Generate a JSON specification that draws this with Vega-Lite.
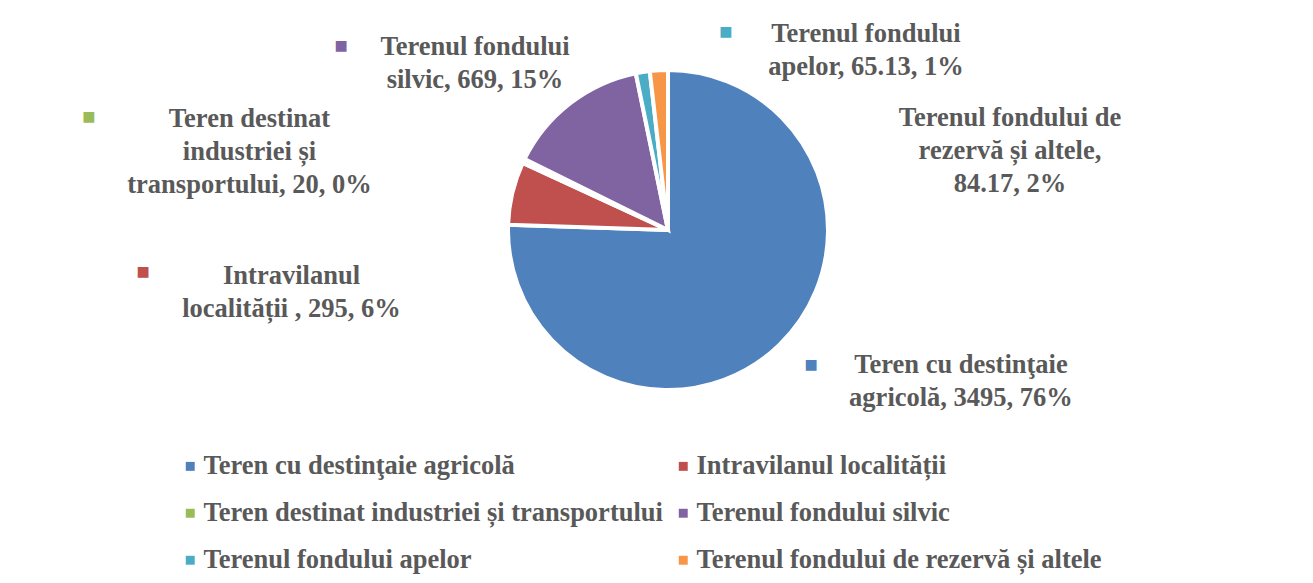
{
  "$schema": "https://vega.github.io/schema/vega-lite/v6.json",
  "autosize": "none",
  "width": 1290,
  "height": 460,
  "padding": {"left": 23, "top": 0, "right": 0, "bottom": 123},
  "background": "white",
  "config": {"view": {"stroke": null}},
  "data": {"values": [
    {"category": "Teren cu destinţaie agricolă", "value": 3495, "ord": 1, "label": "Teren cu destinţaie\nagricolă, 3495, 76%"},
    {"category": "Intravilanul localității", "value": 295, "ord": 2, "label": "Intravilanul\nlocalității , 295, 6%"},
    {"category": "Teren destinat industriei și transportului", "value": 20, "ord": 3, "label": "Teren destinat\nindustriei și\ntransportului, 20, 0%"},
    {"category": "Terenul fondului silvic", "value": 669, "ord": 4, "label": "Terenul fondului\nsilvic, 669, 15%"},
    {"category": "Terenul fondului apelor", "value": 65.13, "ord": 5, "label": "Terenul fondului\napelor, 65.13, 1%"},
    {"category": "Terenul fondului de rezervă și altele", "value": 84.17, "ord": 6, "label": "Terenul fondului de\nrezervă și altele,\n84.17, 2%"}
  ]},
  "encoding": {
    "theta": {"field": "value", "type": "quantitative", "stack": true},
    "order": {"field": "ord", "type": "quantitative"},
    "detail": {"field": "category", "type": "nominal"}
  },
  "layer": [
    {
      "mark": {"type": "arc", "outerRadius": 160, "stroke": "white", "strokeWidth": 4},
      "encoding": {
        "color": {
          "field": "category", "type": "nominal",
          "scale": {
            "domain": ["Teren cu destinţaie agricolă", "Intravilanul localității", "Teren destinat industriei și transportului", "Terenul fondului silvic", "Terenul fondului apelor", "Terenul fondului de rezervă și altele"],
            "range": ["#4F81BD", "#C0504D", "#9BBB59", "#8064A2", "#4BACC6", "#F79646"]
          },
          "legend": {
            "orient": "none", "legendX": 154, "legendY": 453, "columns": 2, "direction": "horizontal",
            "title": null, "symbolType": "square", "symbolSize": 80, "symbolStrokeWidth": 0,
            "labelFont": "Liberation Serif", "labelFontWeight": "bold", "labelFontSize": 26.5, "labelColor": "#595959",
            "labelLimit": 700, "labelOffset": 0, "rowPadding": 20, "columnPadding": 7, "padding": 0
          }
        }
      }
    },
    {"mark": {"type": "text", "radius": 160, "dx": 181.7, "dy": 20.1, "align": "center", "baseline": "middle", "lineBreak": "\n", "lineHeight": 33, "font": "Liberation Serif", "fontWeight": "bold", "fontSize": 26.5, "color": "#595959"},
     "encoding": {"text": {"condition": {"test": "datum.ord === 1", "field": "label"}, "value": ""}}},
    {"mark": {"type": "text", "radius": 160, "dx": -220.8, "dy": 82.9, "align": "center", "baseline": "middle", "lineBreak": "\n", "lineHeight": 33, "font": "Liberation Serif", "fontWeight": "bold", "fontSize": 26.5, "color": "#595959"},
     "encoding": {"text": {"condition": {"test": "datum.ord === 2", "field": "label"}, "value": ""}}},
    {"mark": {"type": "text", "radius": 160, "dx": -274.2, "dy": -42.4, "align": "center", "baseline": "middle", "lineBreak": "\n", "lineHeight": 33, "font": "Liberation Serif", "fontWeight": "bold", "fontSize": 26.5, "color": "#595959"},
     "encoding": {"text": {"condition": {"test": "datum.ord === 3", "field": "label"}, "value": ""}}},
    {"mark": {"type": "text", "radius": 160, "dx": -95.3, "dy": -56.3, "align": "center", "baseline": "middle", "lineBreak": "\n", "lineHeight": 33, "font": "Liberation Serif", "fontWeight": "bold", "fontSize": 26.5, "color": "#595959"},
     "encoding": {"text": {"condition": {"test": "datum.ord === 4", "field": "label"}, "value": ""}}},
    {"mark": {"type": "text", "radius": 160, "dx": 223.2, "dy": -38, "align": "center", "baseline": "middle", "lineBreak": "\n", "lineHeight": 33, "font": "Liberation Serif", "fontWeight": "bold", "fontSize": 26.5, "color": "#595959"},
     "encoding": {"text": {"condition": {"test": "datum.ord === 5", "field": "label"}, "value": ""}}},
    {"mark": {"type": "text", "radius": 160, "dx": 351.1, "dy": 47.7, "align": "center", "baseline": "middle", "lineBreak": "\n", "lineHeight": 33, "font": "Liberation Serif", "fontWeight": "bold", "fontSize": 26.5, "color": "#595959"},
     "encoding": {"text": {"condition": {"test": "datum.ord === 6", "field": "label"}, "value": ""}}},
    {"mark": {"type": "text", "radius": 160, "dx": 31.7, "dy": 20.1, "align": "center", "baseline": "middle", "font": "DejaVu Sans", "fontSize": 14},
     "encoding": {"color": {"field": "category", "type": "nominal"}, "text": {"condition": {"test": "datum.ord === 1", "value": "■"}, "value": ""}}},
    {"mark": {"type": "text", "radius": 160, "dx": -369.3, "dy": 78.9, "align": "center", "baseline": "middle", "font": "DejaVu Sans", "fontSize": 14},
     "encoding": {"color": {"field": "category", "type": "nominal"}, "text": {"condition": {"test": "datum.ord === 2", "value": "■"}, "value": ""}}},
    {"mark": {"type": "text", "radius": 160, "dx": -434.7, "dy": -43.9, "align": "center", "baseline": "middle", "font": "DejaVu Sans", "fontSize": 14},
     "encoding": {"color": {"field": "category", "type": "nominal"}, "text": {"condition": {"test": "datum.ord === 3", "value": "■"}, "value": ""}}},
    {"mark": {"type": "text", "radius": 160, "dx": -229.3, "dy": -57.3, "align": "center", "baseline": "middle", "font": "DejaVu Sans", "fontSize": 14},
     "encoding": {"color": {"field": "category", "type": "nominal"}, "text": {"condition": {"test": "datum.ord === 4", "value": "■"}, "value": ""}}},
    {"mark": {"type": "text", "radius": 160, "dx": 83.2, "dy": -40, "align": "center", "baseline": "middle", "font": "DejaVu Sans", "fontSize": 14},
     "encoding": {"color": {"field": "category", "type": "nominal"}, "text": {"condition": {"test": "datum.ord === 5", "value": "■"}, "value": ""}}}
  ]
}
